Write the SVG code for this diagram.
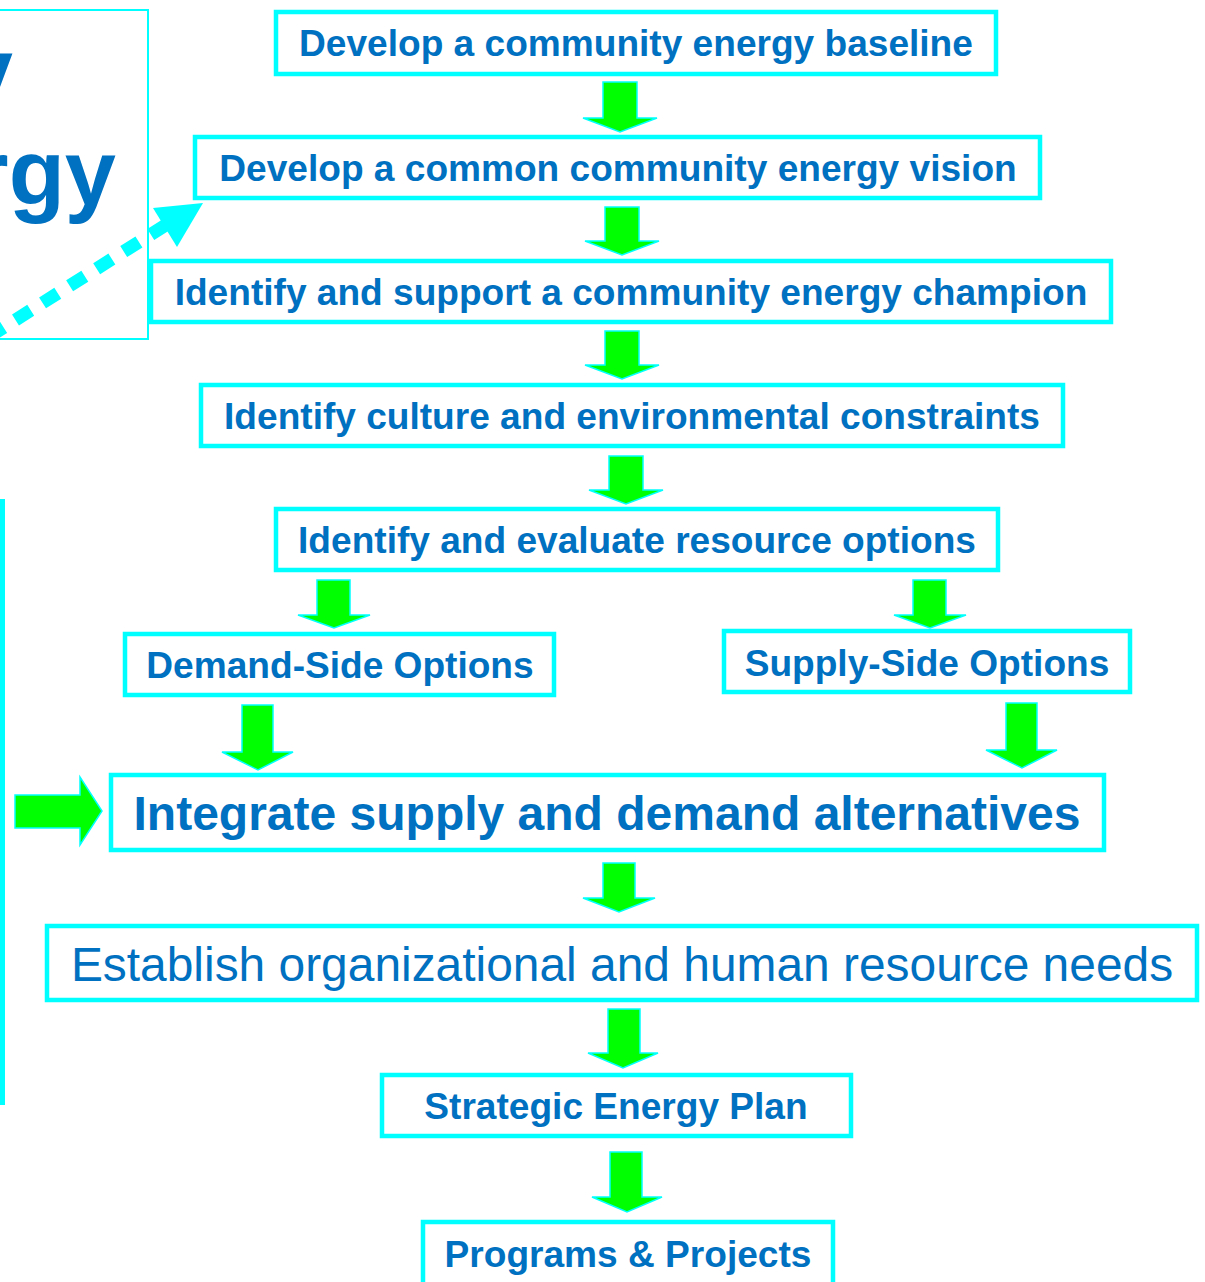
<svg xmlns="http://www.w3.org/2000/svg" width="1205" height="1282" viewBox="0 0 1205 1282">
<style>
.box{fill:#fff;stroke:#00FFFF;stroke-width:4.5}
.t{font-family:"Liberation Sans",Arial,sans-serif;font-weight:bold;font-size:37.1px;fill:#0070C0;text-anchor:middle}
.big{font-size:48px}
.reg{font-weight:normal;font-size:47.9px}
.arr{fill:#00FF00;stroke:#00FFFF;stroke-width:1.5;stroke-linejoin:miter}
</style>
<rect width="1205" height="1282" fill="#fff"/>
<g id="title-box">
<rect x="-10" y="10" width="158" height="329" fill="#fff" stroke="#00FFFF" stroke-width="2"/>
<text x="13" y="103" class="t" style="font-size:92px;text-anchor:end">y</text>
<text x="116" y="205" class="t" style="font-size:92px;text-anchor:end">rgy</text>
</g>
<g id="side-bar"><rect x="0" y="499" width="5" height="606" fill="#00FFFF"/></g>
<g id="n1"><rect class="box" x="276" y="12" width="720" height="62"/><text class="t" x="636" y="56">Develop a community energy baseline</text></g>
<g id="n2"><rect class="box" x="195" y="137" width="845" height="61"/><text class="t" x="618" y="181">Develop a common community energy vision</text></g>
<g id="n3"><rect class="box" x="151" y="261" width="960" height="61"/><text class="t" x="631" y="305">Identify and support a community energy champion</text></g>
<g id="n4"><rect class="box" x="201" y="385" width="862" height="61"/><text class="t" x="632" y="429">Identify culture and environmental constraints</text></g>
<g id="n5"><rect class="box" x="276" y="509" width="722" height="61"/><text class="t" x="637" y="553">Identify and evaluate resource options</text></g>
<g id="n6"><rect class="box" x="125" y="634" width="429" height="61"/><text class="t" x="340" y="678">Demand-Side Options</text></g>
<g id="n7"><rect class="box" x="724" y="631" width="406" height="61"/><text class="t" x="927" y="676">Supply-Side Options</text></g>
<g id="n8"><rect class="box" x="111" y="775" width="993" height="75"/><text class="t big" x="607" y="830">Integrate supply and demand alternatives</text></g>
<g id="n9"><rect class="box" x="47" y="926" width="1150" height="74"/><text class="t reg" x="622" y="981">Establish organizational and human resource needs</text></g>
<g id="n10"><rect class="box" x="382" y="1075" width="469" height="61"/><text class="t" x="616" y="1119">Strategic Energy Plan</text></g>
<g id="n11"><rect class="box" x="423" y="1222" width="410" height="75"/><text class="t" x="628" y="1267">Programs &amp; Projects</text></g>
<g id="connectors">
<line x1="-20" y1="342.4" x2="165" y2="225.5" stroke="#00FFFF" stroke-width="13" stroke-dasharray="18 14" stroke-dashoffset="22"/>
<polygon points="153,208 203,203 177,247" fill="#00FFFF"/>
<polygon class="arr" points="15,795 80,795 80,777 102,811 80,845 80,828 15,828"/>
<polygon class="arr" points="603,82 637,82 637,118 657,118 620,132 583,118 603,118"/>
<polygon class="arr" points="605,207 639,207 639,241 659,241 622,255 585,241 605,241"/>
<polygon class="arr" points="605,331 639,331 639,365 659,365 622,379 585,365 605,365"/>
<polygon class="arr" points="609,456 643,456 643,490 663,490 626,504 589,490 609,490"/>
<polygon class="arr" points="317,580 350,580 350,615 370,615 334,628 298,615 317,615"/>
<polygon class="arr" points="913,580 946,580 946,615 966,615 930,628 894,615 913,615"/>
<polygon class="arr" points="242,705 273,705 273,752 293,752 258,770 222,752 242,752"/>
<polygon class="arr" points="1006,703 1037,703 1037,750 1057,750 1022,768 986,750 1006,750"/>
<polygon class="arr" points="603,863 635,863 635,898 655,898 619,912 583,898 603,898"/>
<polygon class="arr" points="608,1009 640,1009 640,1053 658,1053 623,1068 588,1053 608,1053"/>
<polygon class="arr" points="610,1152 642,1152 642,1197 662,1197 627,1212 592,1197 610,1197"/>
</g>
</svg>
